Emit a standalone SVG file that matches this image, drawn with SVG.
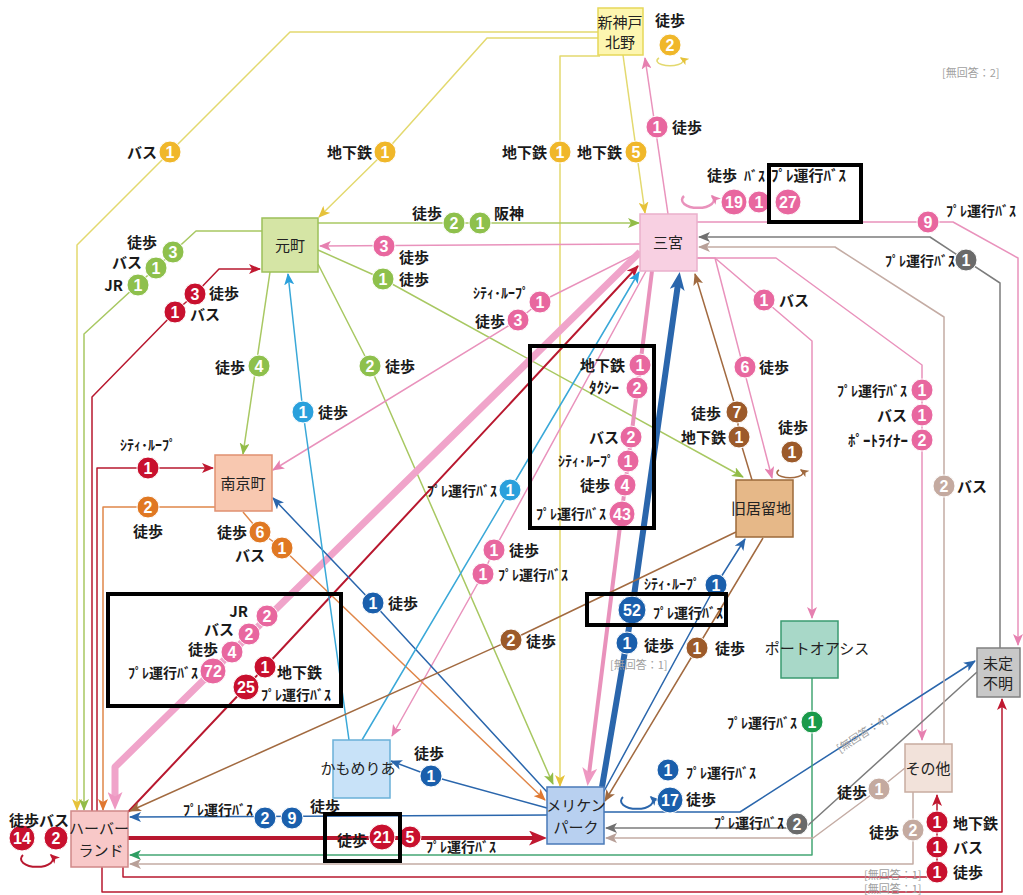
<svg xmlns="http://www.w3.org/2000/svg" width="1023" height="895" viewBox="0 0 1023 895">
<style>
.l{fill:none;stroke-width:1.5;stroke-linejoin:round}
.y{stroke:#e3d96f}.g{stroke:#a8c862}.p{stroke:#e992bc}.r{stroke:#b8182f}.o{stroke:#e0874a}.b{stroke:#2a66ac}.lb{stroke:#3aa8d8}.br{stroke:#a26a40}.t{stroke:#44a674}.gr{stroke:#7c7c7c}.tn{stroke:#c4aca4}
.f-y{fill:#f0b72a}.f-g{fill:#8ec04c}.f-p{fill:#e8679f}.f-r{fill:#c8102e}.f-o{fill:#e07822}.f-b{fill:#1a5fac}.f-lb{fill:#2aa0dc}.f-br{fill:#9c5a2a}.f-t{fill:#1a9a4a}.f-gr{fill:#6a6a6a}.f-tn{fill:#c4aaa0}
circle{stroke:#fff;stroke-width:1}
.n{font-family:"Liberation Sans Narrow","Liberation Sans",Arial,sans-serif;font-weight:bold;font-size:16px;fill:#fff;text-anchor:middle}
.tx{font-family:"Noto Sans CJK JP","Noto Sans",sans-serif;font-size:15px;font-weight:bold;fill:#1a1a1a}
.e{text-anchor:end}.m{text-anchor:middle}
.k{font-size:14px}
.nt{font-family:"Noto Sans CJK JP","Noto Sans",sans-serif;font-size:15px;fill:#222;text-anchor:middle}
.na{font-family:"Noto Sans CJK JP","Noto Sans",sans-serif;font-size:11px;fill:#a0a0a0}
.hl{fill:none;stroke:#000;stroke-width:4}
</style>
<defs>
<marker id="m-y" viewBox="0 0 12 10" refX="11" refY="5" markerWidth="12" markerHeight="10" markerUnits="userSpaceOnUse" orient="auto"><path d="M0,0L12,5L0,10L3,5z" fill="#e6c23a"/></marker>
<marker id="m-g" viewBox="0 0 12 10" refX="11" refY="5" markerWidth="12" markerHeight="10" markerUnits="userSpaceOnUse" orient="auto"><path d="M0,0L12,5L0,10L3,5z" fill="#92bc48"/></marker>
<marker id="m-p" viewBox="0 0 12 10" refX="11" refY="5" markerWidth="12" markerHeight="10" markerUnits="userSpaceOnUse" orient="auto"><path d="M0,0L12,5L0,10L3,5z" fill="#e680b0"/></marker>
<marker id="m-r" viewBox="0 0 12 10" refX="11" refY="5" markerWidth="12" markerHeight="10" markerUnits="userSpaceOnUse" orient="auto"><path d="M0,0L12,5L0,10L3,5z" fill="#c01830"/></marker>
<marker id="m-o" viewBox="0 0 12 10" refX="11" refY="5" markerWidth="12" markerHeight="10" markerUnits="userSpaceOnUse" orient="auto"><path d="M0,0L12,5L0,10L3,5z" fill="#e07830"/></marker>
<marker id="m-b" viewBox="0 0 12 10" refX="11" refY="5" markerWidth="12" markerHeight="10" markerUnits="userSpaceOnUse" orient="auto"><path d="M0,0L12,5L0,10L3,5z" fill="#2a66ac"/></marker>
<marker id="m-lb" viewBox="0 0 12 10" refX="11" refY="5" markerWidth="12" markerHeight="10" markerUnits="userSpaceOnUse" orient="auto"><path d="M0,0L12,5L0,10L3,5z" fill="#2aa0dc"/></marker>
<marker id="m-br" viewBox="0 0 12 10" refX="11" refY="5" markerWidth="12" markerHeight="10" markerUnits="userSpaceOnUse" orient="auto"><path d="M0,0L12,5L0,10L3,5z" fill="#a06a40"/></marker>
<marker id="m-t" viewBox="0 0 12 10" refX="11" refY="5" markerWidth="12" markerHeight="10" markerUnits="userSpaceOnUse" orient="auto"><path d="M0,0L12,5L0,10L3,5z" fill="#2e9e62"/></marker>
<marker id="m-gr" viewBox="0 0 12 10" refX="11" refY="5" markerWidth="12" markerHeight="10" markerUnits="userSpaceOnUse" orient="auto"><path d="M0,0L12,5L0,10L3,5z" fill="#707070"/></marker>
<marker id="m-tn" viewBox="0 0 12 10" refX="11" refY="5" markerWidth="12" markerHeight="10" markerUnits="userSpaceOnUse" orient="auto"><path d="M0,0L12,5L0,10L3,5z" fill="#b8a098"/></marker>
<marker id="m-pT" viewBox="0 0 12 10" refX="4" refY="5" markerWidth="18" markerHeight="15" markerUnits="userSpaceOnUse" orient="auto"><path d="M0,0L12,5L0,10L3,5z" fill="#ee98c2"/></marker>
<marker id="m-bT" viewBox="0 0 12 10" refX="4" refY="5" markerWidth="18" markerHeight="15" markerUnits="userSpaceOnUse" orient="auto"><path d="M0,0L12,5L0,10L3,5z" fill="#2a66ac"/></marker>
<marker id="m-rT" viewBox="0 0 12 10" refX="4" refY="5" markerWidth="18" markerHeight="15" markerUnits="userSpaceOnUse" orient="auto"><path d="M0,0L12,5L0,10L3,5z" fill="#c01830"/></marker>
<marker id="m-yL" viewBox="0 0 12 10" refX="10" refY="5" markerWidth="9" markerHeight="8" markerUnits="userSpaceOnUse" orient="auto"><path d="M0,0L12,5L0,10L3,5z" fill="#e6c23a"/></marker>
<marker id="m-pL" viewBox="0 0 12 10" refX="10" refY="5" markerWidth="10" markerHeight="9" markerUnits="userSpaceOnUse" orient="auto"><path d="M0,0L12,5L0,10L3,5z" fill="#e680b0"/></marker>
<marker id="m-rL" viewBox="0 0 12 10" refX="10" refY="5" markerWidth="10" markerHeight="9" markerUnits="userSpaceOnUse" orient="auto"><path d="M0,0L12,5L0,10L3,5z" fill="#c01830"/></marker>
<marker id="m-bL" viewBox="0 0 12 10" refX="10" refY="5" markerWidth="10" markerHeight="9" markerUnits="userSpaceOnUse" orient="auto"><path d="M0,0L12,5L0,10L3,5z" fill="#2a66ac"/></marker>
<marker id="m-brL" viewBox="0 0 12 10" refX="10" refY="5" markerWidth="9" markerHeight="8" markerUnits="userSpaceOnUse" orient="auto"><path d="M0,0L12,5L0,10L3,5z" fill="#a06a40"/></marker>
</defs>
<rect width="1023" height="895" fill="#fff"/>
<g id="connectors">
<path class="l y" d="M598,32H290L77,245V810" marker-end="url(#m-y)"/>
<path class="l y" d="M598,38H487L385,152L319,217" marker-end="url(#m-y)"/>
<path class="l y" d="M600,56H560V786" marker-end="url(#m-y)"/>
<path class="l y" d="M623,55L645,213" marker-end="url(#m-y)"/>
<path class="l g" d="M318,223H639" marker-end="url(#m-g)"/>
<path class="l g" d="M262,231H196L84,334V810" marker-end="url(#m-g)"/>
<path class="l g" d="M270,272L243,454" marker-end="url(#m-g)"/>
<path class="l g" d="M318,264L370,366L553,784" marker-end="url(#m-g)"/>
<path class="l g" d="M318,250L383,279L743,477" marker-end="url(#m-g)"/>
<path class="l p" d="M668,214L645,58" marker-end="url(#m-p)"/>
<path class="l p" d="M640,244L320,246" marker-end="url(#m-p)"/>
<path class="l p" d="M640,252L540,302L518,320L273,470" marker-end="url(#m-p)"/>
<path class="l" style="stroke:#f0a4ca;stroke-width:7" d="M640,252L115,767V798" marker-end="url(#m-pT)"/>
<path class="l" style="stroke:#e992bc;stroke-width:4" d="M652,271L589,774" marker-end="url(#m-pT)"/>
<path class="l p" d="M646,271L494,550L483,574L392,736" marker-end="url(#m-p)"/>
<path class="l p" d="M697,258H715L772,478" marker-end="url(#m-p)"/>
<path class="l p" d="M715,258L764,300L812,341V618" marker-end="url(#m-p)"/>
<path class="l p" d="M697,258H776L922,365V740" marker-end="url(#m-p)"/>
<path class="l p" d="M697,222H953L1018,258V645" marker-end="url(#m-p)"/>
<path class="l r" d="M92,811V397L175,312L195,294L219,269H260" marker-end="url(#m-r)"/>
<path class="l r" d="M97,811V468H213" marker-end="url(#m-r)"/>
<path class="l r" style="stroke-width:2" d="M128,812L246,687L265,667L638,266" marker-end="url(#m-r)"/>
<path class="l r" style="stroke-width:4" d="M128,838H535" marker-end="url(#m-rT)"/>
<path class="l r" d="M123,867V877H937V795" marker-end="url(#m-r)"/>
<path class="l r" d="M102,867V892H1002V699" marker-end="url(#m-r)"/>
<path class="l o" d="M215,507H103V810" marker-end="url(#m-o)"/>
<path class="l o" d="M243,512L260,532L282,548L545,800" marker-end="url(#m-o)"/>
<path class="l b" style="stroke-width:6" d="M602,787L632,610L678,284" marker-end="url(#m-bT)"/>
<path class="l b" d="M603,793L716,585L745,539" marker-end="url(#m-b)"/>
<path class="l b" d="M547,792L373,603L273,498" marker-end="url(#m-b)"/>
<path class="l b" d="M547,808L431,776L391,761" marker-end="url(#m-b)"/>
<path class="l b" d="M547,815L130,817" marker-end="url(#m-b)"/>
<path class="l b" d="M604,812H740L975,661" marker-end="url(#m-b)"/>
<path class="l lb" d="M349,740L303,412L288,274" marker-end="url(#m-lb)"/>
<path class="l lb" d="M362,740L510,490L639,272" marker-end="url(#m-lb)"/>
<path class="l br" d="M752,480L739,437L737,412L695,274" marker-end="url(#m-br)"/>
<path class="l br" d="M736,532L511,640L130,811" marker-end="url(#m-br)"/>
<path class="l br" d="M763,538L697,648L605,801" marker-end="url(#m-br)"/>
<path class="l t" d="M812,678V855H130" marker-end="url(#m-t)"/>
<path class="l gr" d="M1000,648V283L930,237H699" marker-end="url(#m-gr)"/>
<path class="l gr" d="M977,672L805,828H606" marker-end="url(#m-gr)"/>
<path class="l tn" d="M944,744V317L835,247H699" marker-end="url(#m-tn)"/>
<path class="l tn" d="M905,768L879,789L813,838H606" marker-end="url(#m-tn)"/>
<path class="l tn" d="M913,792V864H130" marker-end="url(#m-tn)"/>
<path class="l y" d="M659,58A13,5 0 1 0 681,58" marker-end="url(#m-yL)"/>
<path class="l p" style="stroke-width:2.5" d="M684,196A16,8 0 1 0 712,196" marker-end="url(#m-pL)"/>
<path class="l r" style="stroke-width:2" d="M23,855A16,8 0 1 0 51,855" marker-end="url(#m-rL)"/>
<path class="l b" style="stroke-width:2" d="M623,797A16,8 0 1 0 651,797" marker-end="url(#m-bL)"/>
<path class="l br" d="M779,470A13,5 0 1 0 801,470" marker-end="url(#m-brL)"/>
</g>
<g id="n-shinkobe"><rect x="598" y="8" width="45" height="47" fill="#fdf6b0" stroke="#e6d85a" stroke-width="1.5"/><text class="nt" x="620" y="28" font-size="14.5">新神戸</text><text class="nt" x="620" y="48" font-size="14.5">北野</text></g>
<g id="n-motomachi"><rect x="262" y="218" width="56" height="54" fill="#d5e5a5" stroke="#9cc05a" stroke-width="1.5"/><text class="nt" x="290" y="251">元町</text></g>
<g id="n-sannomiya"><rect x="640" y="214" width="57" height="57" fill="#f8d0e2" stroke="#eab0cc" stroke-width="1.5"/><text class="nt" x="668" y="248">三宮</text></g>
<g id="n-nankinmachi"><rect x="215" y="455" width="57" height="56" fill="#f8c8b0" stroke="#e09070" stroke-width="1.5"/><text class="nt" x="243" y="489" font-size="16">南京町</text></g>
<g id="n-kyukyoryuchi"><rect x="736" y="480" width="57" height="57" fill="#e6b888" stroke="#9c6a3a" stroke-width="1.5"/><text class="nt" x="761" y="514">旧居留地</text></g>
<g id="n-portoasis"><rect x="781" y="621" width="57" height="57" fill="#a8d8c8" stroke="#3a9a70" stroke-width="1.5"/><text class="nt" x="817" y="654">ポートオアシス</text></g>
<g id="n-mitei"><rect x="977" y="648" width="43" height="49" fill="#c8c8c8" stroke="#808080" stroke-width="1.5"/><text class="nt" x="998" y="669">未定</text><text class="nt" x="998" y="689">不明</text></g>
<g id="n-sonota"><rect x="905" y="744" width="47" height="48" fill="#f2e2da" stroke="#c8aca0" stroke-width="1.5"/><text class="nt" x="928" y="774">その他</text></g>
<g id="n-kamomeria"><rect x="333" y="740" width="57" height="58" fill="#c8e2f8" stroke="#6ab0d8" stroke-width="1.5"/><text class="nt" x="358" y="774" font-size="13">かもめりあ</text></g>
<g id="n-meriken"><rect x="547" y="787" width="57" height="57" fill="#b8d0f0" stroke="#4a7ab8" stroke-width="1.5"/><text class="nt" x="576" y="811" font-size="14">メリケン</text><text class="nt" x="576" y="833" font-size="14">パーク</text></g>
<g id="n-harbor"><rect x="71" y="811" width="57" height="56" fill="#f8c8c8" stroke="#d08888" stroke-width="1.5"/><text class="nt" x="99" y="834" font-size="14.5">ハーバー</text><text class="nt" x="101" y="856" font-size="14.5">ランド</text></g>
<g id="badges">
<circle class="f-y" cx="170" cy="152" r="11"/><text class="n" x="170" y="158">1</text>
<circle class="f-y" cx="385" cy="152" r="11"/><text class="n" x="385" y="158">1</text>
<circle class="f-y" cx="560" cy="152" r="11"/><text class="n" x="560" y="158">1</text>
<circle class="f-y" cx="636" cy="152" r="11"/><text class="n" x="636" y="158">5</text>
<circle class="f-y" cx="670" cy="45" r="11"/><text class="n" x="670" y="51">2</text>
<circle class="f-g" cx="454" cy="223" r="11"/><text class="n" x="454" y="229">2</text>
<circle class="f-g" cx="480" cy="223" r="11"/><text class="n" x="480" y="229">1</text>
<circle class="f-g" cx="173" cy="252" r="11"/><text class="n" x="173" y="258">3</text>
<circle class="f-g" cx="156" cy="268" r="11"/><text class="n" x="156" y="274">1</text>
<circle class="f-g" cx="138" cy="285" r="11"/><text class="n" x="138" y="291">1</text>
<circle class="f-g" cx="259" cy="366" r="11"/><text class="n" x="259" y="372">4</text>
<circle class="f-g" cx="370" cy="366" r="11"/><text class="n" x="370" y="372">2</text>
<circle class="f-g" cx="383" cy="279" r="11"/><text class="n" x="383" y="285">1</text>
<circle class="f-p" cx="657" cy="127" r="11"/><text class="n" x="657" y="133">1</text>
<circle class="f-p" cx="384" cy="246" r="11"/><text class="n" x="384" y="252">3</text>
<circle class="f-p" cx="540" cy="302" r="11"/><text class="n" x="540" y="308">1</text>
<circle class="f-p" cx="518" cy="320" r="11"/><text class="n" x="518" y="326">3</text>
<circle class="f-p" cx="267" cy="616" r="11"/><text class="n" x="267" y="622">2</text>
<circle class="f-p" cx="249" cy="634" r="11"/><text class="n" x="249" y="640">2</text>
<circle class="f-p" cx="232" cy="652" r="11"/><text class="n" x="232" y="658">4</text>
<circle class="f-p" cx="213" cy="671" r="13"/><text class="n" x="213" y="677">72</text>
<circle class="f-p" cx="640" cy="365" r="11"/><text class="n" x="640" y="371">1</text>
<circle class="f-p" cx="637" cy="388" r="11"/><text class="n" x="637" y="394">2</text>
<circle class="f-p" cx="631" cy="437" r="11"/><text class="n" x="631" y="443">2</text>
<circle class="f-p" cx="628" cy="461" r="11"/><text class="n" x="628" y="467">1</text>
<circle class="f-p" cx="625" cy="485" r="11"/><text class="n" x="625" y="491">4</text>
<circle class="f-p" cx="622" cy="514" r="13"/><text class="n" x="622" y="520">43</text>
<circle class="f-p" cx="494" cy="550" r="11"/><text class="n" x="494" y="556">1</text>
<circle class="f-p" cx="483" cy="574" r="11"/><text class="n" x="483" y="580">1</text>
<circle class="f-p" cx="745" cy="367" r="11"/><text class="n" x="745" y="373">6</text>
<circle class="f-p" cx="764" cy="300" r="11"/><text class="n" x="764" y="306">1</text>
<circle class="f-p" cx="922" cy="390" r="11"/><text class="n" x="922" y="396">1</text>
<circle class="f-p" cx="922" cy="415" r="11"/><text class="n" x="922" y="421">1</text>
<circle class="f-p" cx="922" cy="440" r="11"/><text class="n" x="922" y="446">2</text>
<circle class="f-p" cx="928" cy="222" r="11"/><text class="n" x="928" y="228">9</text>
<circle class="f-p" cx="734" cy="202" r="13"/><text class="n" x="734" y="208">19</text>
<circle class="f-p" cx="759" cy="202" r="11"/><text class="n" x="759" y="208">1</text>
<circle class="f-p" cx="788" cy="202" r="13"/><text class="n" x="788" y="208">27</text>
<circle class="f-r" cx="195" cy="294" r="11"/><text class="n" x="195" y="300">3</text>
<circle class="f-r" cx="175" cy="312" r="11"/><text class="n" x="175" y="318">1</text>
<circle class="f-r" cx="148" cy="468" r="11"/><text class="n" x="148" y="474">1</text>
<circle class="f-r" cx="265" cy="667" r="11"/><text class="n" x="265" y="673">1</text>
<circle class="f-r" cx="246" cy="687" r="13"/><text class="n" x="246" y="693">25</text>
<circle class="f-r" cx="382" cy="837" r="13"/><text class="n" x="382" y="843">21</text>
<circle class="f-r" cx="410" cy="837" r="11"/><text class="n" x="410" y="843">5</text>
<circle class="f-r" cx="937" cy="822" r="11"/><text class="n" x="937" y="828">1</text>
<circle class="f-r" cx="937" cy="847" r="11"/><text class="n" x="937" y="853">1</text>
<circle class="f-r" cx="937" cy="872" r="11"/><text class="n" x="937" y="878">1</text>
<circle class="f-r" cx="22" cy="838" r="13"/><text class="n" x="22" y="844">14</text>
<circle class="f-r" cx="56" cy="838" r="12"/><text class="n" x="56" y="844">2</text>
<circle class="f-o" cx="148" cy="507" r="11"/><text class="n" x="148" y="513">2</text>
<circle class="f-o" cx="260" cy="532" r="11"/><text class="n" x="260" y="538">6</text>
<circle class="f-o" cx="282" cy="548" r="11"/><text class="n" x="282" y="554">1</text>
<circle class="f-b" cx="632" cy="610" r="14"/><text class="n" x="632" y="616">52</text>
<circle class="f-b" cx="627" cy="643" r="11"/><text class="n" x="627" y="649">1</text>
<circle class="f-b" cx="716" cy="585" r="11"/><text class="n" x="716" y="591">1</text>
<circle class="f-b" cx="373" cy="603" r="11"/><text class="n" x="373" y="609">1</text>
<circle class="f-b" cx="431" cy="776" r="11"/><text class="n" x="431" y="782">1</text>
<circle class="f-b" cx="265" cy="818" r="11"/><text class="n" x="265" y="824">2</text>
<circle class="f-b" cx="292" cy="818" r="11"/><text class="n" x="292" y="824">9</text>
<circle class="f-b" cx="668" cy="770" r="11"/><text class="n" x="668" y="776">1</text>
<circle class="f-b" cx="670" cy="800" r="13"/><text class="n" x="670" y="806">17</text>
<circle class="f-lb" cx="303" cy="412" r="11"/><text class="n" x="303" y="418">1</text>
<circle class="f-lb" cx="510" cy="490" r="11"/><text class="n" x="510" y="496">1</text>
<circle class="f-br" cx="737" cy="412" r="11"/><text class="n" x="737" y="418">7</text>
<circle class="f-br" cx="739" cy="437" r="11"/><text class="n" x="739" y="443">1</text>
<circle class="f-br" cx="511" cy="640" r="11"/><text class="n" x="511" y="646">2</text>
<circle class="f-br" cx="697" cy="648" r="11"/><text class="n" x="697" y="654">1</text>
<circle class="f-br" cx="792" cy="452" r="11"/><text class="n" x="792" y="458">1</text>
<circle class="f-t" cx="812" cy="722" r="11"/><text class="n" x="812" y="728">1</text>
<circle class="f-gr" cx="966" cy="260" r="11"/><text class="n" x="966" y="266">1</text>
<circle class="f-gr" cx="797" cy="824" r="11"/><text class="n" x="797" y="830">2</text>
<circle class="f-tn" cx="944" cy="486" r="11"/><text class="n" x="944" y="492">2</text>
<circle class="f-tn" cx="879" cy="789" r="11"/><text class="n" x="879" y="795">1</text>
<circle class="f-tn" cx="913" cy="830" r="11"/><text class="n" x="913" y="836">2</text>
</g>
<g id="labels">
<text class="tx e" x="157" y="158">バス</text>
<text class="tx e" x="372" y="158">地下鉄</text>
<text class="tx e" x="547" y="158">地下鉄</text>
<text class="tx e" x="622" y="158">地下鉄</text>
<text class="tx" x="655" y="26">徒歩</text>
<text class="tx e" x="442" y="219">徒歩</text>
<text class="tx" x="494" y="219">阪神</text>
<text class="tx e" x="157" y="248">徒歩</text>
<text class="tx e" x="142" y="268">バス</text>
<text class="tx e" x="123" y="291">JR</text>
<text class="tx e" x="245" y="373">徒歩</text>
<text class="tx" x="385" y="372">徒歩</text>
<text class="tx" x="399" y="285">徒歩</text>
<text class="tx" x="672" y="133">徒歩</text>
<text class="tx" x="399" y="263">徒歩</text>
<text class="tx k e" x="529" y="298">ｼﾃｨ･ﾙｰﾌﾟ</text>
<text class="tx e" x="505" y="327">徒歩</text>
<text class="tx e" x="248" y="617">JR</text>
<text class="tx e" x="234" y="635">バス</text>
<text class="tx e" x="218" y="655">徒歩</text>
<text class="tx k e" x="198" y="678">ﾌﾟﾚ運行ﾊﾞｽ</text>
<text class="tx e" x="625" y="371">地下鉄</text>
<text class="tx e" x="619" y="393">ﾀｸｼｰ</text>
<text class="tx e" x="619" y="443">バス</text>
<text class="tx k e" x="614" y="466">ｼﾃｨ･ﾙｰﾌﾟ</text>
<text class="tx e" x="610" y="491">徒歩</text>
<text class="tx k e" x="606" y="519">ﾌﾟﾚ運行ﾊﾞｽ</text>
<text class="tx" x="509" y="556">徒歩</text>
<text class="tx k" x="498" y="580">ﾌﾟﾚ運行ﾊﾞｽ</text>
<text class="tx" x="759" y="373">徒歩</text>
<text class="tx" x="779" y="306">バス</text>
<text class="tx k e" x="907" y="396">ﾌﾟﾚ運行ﾊﾞｽ</text>
<text class="tx e" x="907" y="421">バス</text>
<text class="tx e" x="908" y="446" font-size="16">ﾎﾟｰﾄﾗｲﾅｰ</text>
<text class="tx k" x="946" y="216">ﾌﾟﾚ運行ﾊﾞｽ</text>
<text class="tx" x="707" y="181">徒歩</text>
<text class="tx k" x="744" y="181">ﾊﾞｽ</text>
<text class="tx" x="771" y="181">ﾌﾟﾚ運行ﾊﾞｽ</text>
<text class="tx" x="209" y="299">徒歩</text>
<text class="tx" x="190" y="320">バス</text>
<text class="tx k m" x="148" y="450">ｼﾃｨ･ﾙｰﾌﾟ</text>
<text class="tx" x="277" y="678">地下鉄</text>
<text class="tx k" x="261" y="700">ﾌﾟﾚ運行ﾊﾞｽ</text>
<text class="tx e" x="367" y="846">徒歩</text>
<text class="tx k" x="426" y="852">ﾌﾟﾚ運行ﾊﾞｽ</text>
<text class="tx" x="953" y="829">地下鉄</text>
<text class="tx" x="953" y="853">バス</text>
<text class="tx" x="953" y="878">徒歩</text>
<text class="tx" x="9" y="826">徒歩バス</text>
<text class="tx m" x="148" y="537">徒歩</text>
<text class="tx e" x="247" y="538">徒歩</text>
<text class="tx e" x="265" y="561">バス</text>
<text class="tx k" x="653" y="618">ﾌﾟﾚ運行ﾊﾞｽ</text>
<text class="tx" x="644" y="651">徒歩</text>
<text class="tx k e" x="700" y="589">ｼﾃｨ･ﾙｰﾌﾟ</text>
<text class="tx" x="388" y="609">徒歩</text>
<text class="tx m" x="429" y="759">徒歩</text>
<text class="tx k" x="183" y="815">ﾌﾟﾚ運行ﾊﾞｽ</text>
<text class="tx" x="310" y="812">徒歩</text>
<text class="tx k" x="686" y="778">ﾌﾟﾚ運行ﾊﾞｽ</text>
<text class="tx" x="686" y="805">徒歩</text>
<text class="tx" x="318" y="418">徒歩</text>
<text class="tx k e" x="497" y="496">ﾌﾟﾚ運行ﾊﾞｽ</text>
<text class="tx e" x="721" y="419">徒歩</text>
<text class="tx e" x="726" y="443">地下鉄</text>
<text class="tx" x="526" y="647">徒歩</text>
<text class="tx" x="715" y="654">徒歩</text>
<text class="tx m" x="793" y="433">徒歩</text>
<text class="tx k e" x="797" y="728">ﾌﾟﾚ運行ﾊﾞｽ</text>
<text class="tx k e" x="955" y="266">ﾌﾟﾚ運行ﾊﾞｽ</text>
<text class="tx k e" x="784" y="828">ﾌﾟﾚ運行ﾊﾞｽ</text>
<text class="tx" x="957" y="492">バス</text>
<text class="tx e" x="867" y="798">徒歩</text>
<text class="tx e" x="899" y="838">徒歩</text>
<text class="na" x="942" y="77">[無回答：2]</text>
<text class="na" x="610" y="669">[無回答：1]</text>
<text class="na" x="864" y="879" font-size="10">[無回答：1]</text>
<text class="na" x="864" y="893" font-size="10">[無回答：1]</text>
<text class="na m" x="862" y="738" transform="rotate(-33 862 734)">[無回答：4]</text>
</g>
<g id="highlights">
<rect class="hl" x="769" y="165" width="92" height="57"/>
<rect class="hl" x="530" y="346" width="124" height="182"/>
<rect class="hl" x="587" y="594" width="139" height="31"/>
<rect class="hl" x="108" y="594" width="233" height="112"/>
<rect class="hl" x="325" y="814" width="75" height="47"/>
</g>
</svg>
